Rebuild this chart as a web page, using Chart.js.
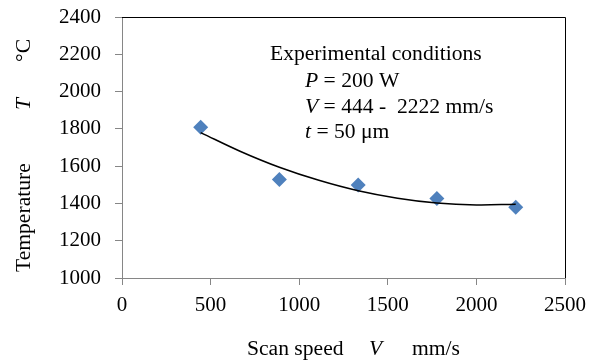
<!DOCTYPE html>
<html>
<head>
<meta charset="utf-8">
<script src="https://cdn.jsdelivr.net/npm/chart.js@4/dist/chart.umd.min.js"></script>
<style>
  body { margin: 0; background: #fff; }
  #wrap { width: 598px; height: 362px; }
</style>
</head>
<body>
<div id="wrap"><canvas id="graphCanvas" width="598" height="362"></canvas></div>
<script>
// measured points (scan speed mm/s, temperature C)
var speed = [444, 888, 1333, 1777, 2222];
var temp = [1808, 1529, 1499, 1427, 1379];

// trend line
var trendSpeed = [444, 666, 888, 1111, 1333, 1555, 1777, 2000, 2222];
var trendTemp = [1780, 1680, 1594, 1524, 1468, 1428, 1402, 1392, 1396];

var xTicks = [0, 500, 1000, 1500, 2000, 2500];
var yTicks = [1000, 1200, 1400, 1600, 1800, 2000, 2200, 2400];

var serif = '"Liberation Serif", "Times New Roman", serif';
var fs = 21;     // tick labels
var tfs = 21.6;  // titles and box text

var pts = [];
for (var i in speed) {
  pts.push({ x: speed[i], y: temp[i] });
}
var trend = [];
for (var j in trendSpeed) {
  trend.push({ x: trendSpeed[j], y: trendTemp[j] });
}

// pieces of text with italic parts
function drawParts(ctx, x, y, parts) {
  for (var k = 0; k < parts.length; k++) {
    var p = parts[k];
    ctx.font = (p.it ? 'italic ' : '') + tfs + 'px ' + serif;
    var px = (p.at !== undefined) ? p.at : x;
    ctx.fillText(p.t, px, y);
    x = px + ctx.measureText(p.t).width;
  }
}

var textPlugin = {
  id: 'texts',
  afterDraw: function(chart) {
    var ctx = chart.ctx;
    var a = chart.chartArea;
    ctx.save();

    // black top / right frame
    ctx.strokeStyle = '#000';
    ctx.lineWidth = 1;
    ctx.beginPath();
    ctx.moveTo(a.left, a.top + 0.5);
    ctx.lineTo(a.right + 0.5, a.top + 0.5);
    ctx.lineTo(a.right + 0.5, a.bottom);
    ctx.stroke();

    ctx.fillStyle = '#000';
    ctx.textBaseline = 'alphabetic';
    ctx.textAlign = 'left';

    // box text
    drawParts(ctx, 270, 60, [{ t: 'Experimental conditions' }]);
    drawParts(ctx, 305, 87, [{ t: 'P', it: true }, { t: ' = 200 W' }]);
    drawParts(ctx, 305, 113, [{ t: 'V', it: true }, { t: ' = 444 -  2222 mm/s' }]);
    drawParts(ctx, 305, 138, [{ t: 't', it: true }, { t: ' = 50 \u03bcm' }]);

    // x axis title
    drawParts(ctx, 247, 355, [{ t: 'Scan speed' }, { t: 'V', it: true, at: 369 }, { t: 'mm/s', at: 412 }]);

    // y axis title
    ctx.translate(30, 272);
    ctx.rotate(-Math.PI / 2);
    drawParts(ctx, 0, 0, [{ t: 'Temperature' }, { t: 'T', it: true, at: 162 }, { t: '\u00b0C', at: 210 }]);

    ctx.restore();
  }
};

var ctx = document.getElementById('graphCanvas');

var data = {
  datasets: [
    {
      label: 'trend',
      data: trend,
      showLine: true,
      borderColor: '#000',
      borderWidth: 1.5,
      pointRadius: 0,
      tension: 0.4,
      fill: false,
      order: 0
    },
    {
      label: 'T',
      data: pts,
      pointStyle: 'rectRot',
      pointRadius: 7.5,
      backgroundColor: '#4F81BD',
      borderColor: '#4F81BD',
      borderWidth: 0,
      showLine: false,
      order: 1
    }
  ]
};

function plain(v) { return String(v); }

var options = {
  responsive: false,
  animation: false,
  layout: { padding: { top: 17, right: 33, left: 0, bottom: 0 } },
  plugins: {
    legend: { display: false },
    title: { display: false },
    tooltip: { enabled: false }
  },
  scales: {
    x: {
      type: 'linear',
      min: xTicks[0],
      max: xTicks[xTicks.length - 1],
      afterBuildTicks: function(s) { s.ticks = xTicks.map(function(v) { return { value: v }; }); },
      afterFit: function(s) { s.height = 84; s.paddingLeft = 0; s.paddingRight = 0; },
      grid: { drawOnChartArea: false, drawTicks: true, tickLength: 7, color: '#868686' },
      border: { color: '#868686', width: 1 },
      ticks: { color: '#000', padding: 8, maxRotation: 0, callback: plain, font: { family: serif, size: fs } }
    },
    y: {
      type: 'linear',
      min: yTicks[0],
      max: yTicks[yTicks.length - 1],
      afterBuildTicks: function(s) { s.ticks = yTicks.map(function(v) { return { value: v }; }); },
      afterFit: function(s) { s.width = 122; s.paddingTop = 0; s.paddingBottom = 0; },
      grid: { drawOnChartArea: false, drawTicks: true, tickLength: 7, color: '#868686' },
      border: { color: '#868686', width: 1 },
      ticks: { color: '#000', padding: 14, callback: plain, font: { family: serif, size: fs } }
    }
  }
};

var chart = new Chart(ctx, {
  type: 'scatter',
  data: data,
  options: options,
  plugins: [textPlugin]
});
</script>
</body>
</html>
